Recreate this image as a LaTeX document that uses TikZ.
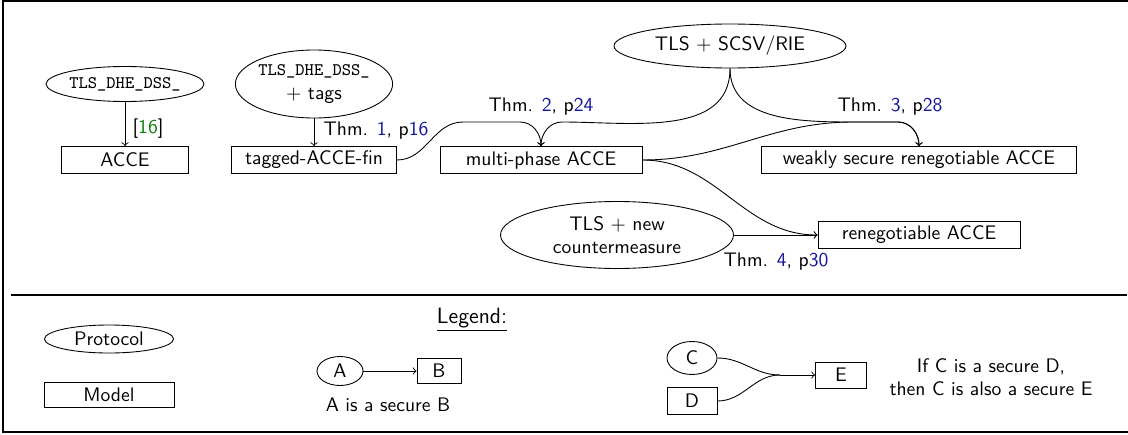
\documentclass[tikz,border=0pt]{standalone}
\usepackage{fontspec}
\usetikzlibrary{shapes.geometric}
\definecolor{refb}{rgb}{0.08,0.08,0.6}
\definecolor{citeg}{rgb}{0.05,0.5,0.05}
\def\u{0.51pt}
\tikzset{
  proto/.style={ellipse, draw, inner sep=0pt, align=center},
  model/.style={rectangle, draw, inner sep=0pt, minimum height=27*\u},
  lbl/.style={inner sep=1pt, align=center},
}
\newcommand{\tlsdhe}{{\small\ttfamily TLS\_DHE\_DSS\_}}
\begin{document}
\begin{tikzpicture}[x=0.51pt, y=-0.51pt, font=\sffamily, line width=0.45pt]
\useasboundingbox (0,0) rectangle (1128,434);
\draw[line width=0.6pt] (1128,1) -- (3,1) -- (3,432) -- (1128,432);
\draw[line width=0.6pt] (11,295) -- (1127,295);

% top part
\node[proto, minimum width=158*\u, minimum height=35*\u] (p1) at (125,84) {\tlsdhe};
\node[model, minimum width=127*\u] (m1) at (125,160) {ACCE};
\node[proto, minimum width=157*\u, minimum height=68*\u] (p2) at (314,84) {\tlsdhe\\$+$ tags};
\node[model, minimum width=165*\u] (m2) at (314,160) {tagged-ACCE-fin};
\node[model, minimum width=202*\u] (m3) at (541,160) {multi-phase ACCE};
\node[proto, minimum width=232*\u, minimum height=44*\u] (p3) at (730,46) {TLS $+$ SCSV/RIE};
\node[model, minimum width=315*\u] (m4) at (919,160) {weakly secure renegotiable ACCE};
\node[model, minimum width=202*\u] (m5) at (919,235) {renegotiable ACCE};
\node[proto, minimum width=233*\u, minimum height=67*\u] (p4) at (617,235) {TLS $+$ new\\countermeasure};

\coordinate (a1) at (463,122);
\coordinate (a2) at (520,122);
\coordinate (b1) at (562,122);
\coordinate (c1) at (853,122);
\coordinate (c2) at (898,122);

\draw[->] (p1) -- (m1);
\node[lbl] (l16) at (148,129) {[\textcolor{citeg}{16}]};
\draw[->] (p2) -- (m2);
\node[lbl] (lt1) at (376,131) {Thm. \textcolor{refb}{1}, p\textcolor{refb}{16}};

\draw[->] (m2.east) to[out=0,in=180] (a1) -- (a2) to[out=0,in=90] (m3.north);
\draw[->] (p3.south) to[out=-90,in=0] (b1) to[out=180,in=90] (m3.north);
\node[lbl] (lt2) at (541,107) {Thm. \textcolor{refb}{2}, p\textcolor{refb}{24}};

\draw[->] (p3.south) to[out=-90,in=180] (c1) -- (c2) to[out=0,in=90] (m4.north);
\draw[->] (m3.east) to[out=0,in=180] (c1) -- (c2) to[out=0,in=90] (m4.north);
\node[lbl] (lt3) at (890,107) {Thm. \textcolor{refb}{3}, p\textcolor{refb}{28}};

\draw[->] (m3.east) to[out=0,in=180] (m5.west);
\draw[->] (p4.east) -- (m5.west);
\node[lbl] (lt4) at (776,262) {Thm. \textcolor{refb}{4}, p\textcolor{refb}{30}};

% legend
\node[lbl, font=\sffamily\fontsize{11.3}{13}\selectfont] (leg) at (472,320) {\underline{Legend:}};
\node[proto, minimum width=129*\u, minimum height=28*\u] (lp) at (109,339) {Protocol};
\node[model, minimum width=130*\u, minimum height=25*\u] (lm) at (109,395) {Model};
\node[proto, minimum width=46*\u, minimum height=29*\u] (la) at (340,371) {A};
\node[model, minimum width=44*\u, minimum height=25*\u] (lb) at (439,371) {B};
\draw[->] (la) -- (lb);
\node[lbl] (lab) at (388,405) {A is a secure B};
\node[proto, minimum width=50*\u, minimum height=33*\u] (lc) at (692,358) {C};
\node[model, minimum width=50*\u, minimum height=27*\u] (ld) at (692,401) {D};
\node[model, minimum width=51*\u, minimum height=26*\u] (le) at (841,375) {E};
\coordinate (lj) at (780,375);
\draw (lc.east) to[out=0,in=180] (lj);
\draw (ld.east) to[out=0,in=180] (lj);
\draw[->] (lj) -- (le.west);
\node[lbl] (lcde) at (991,377) {If C is a secure D,\\then C is also a secure E};
\end{tikzpicture}
\end{document}
